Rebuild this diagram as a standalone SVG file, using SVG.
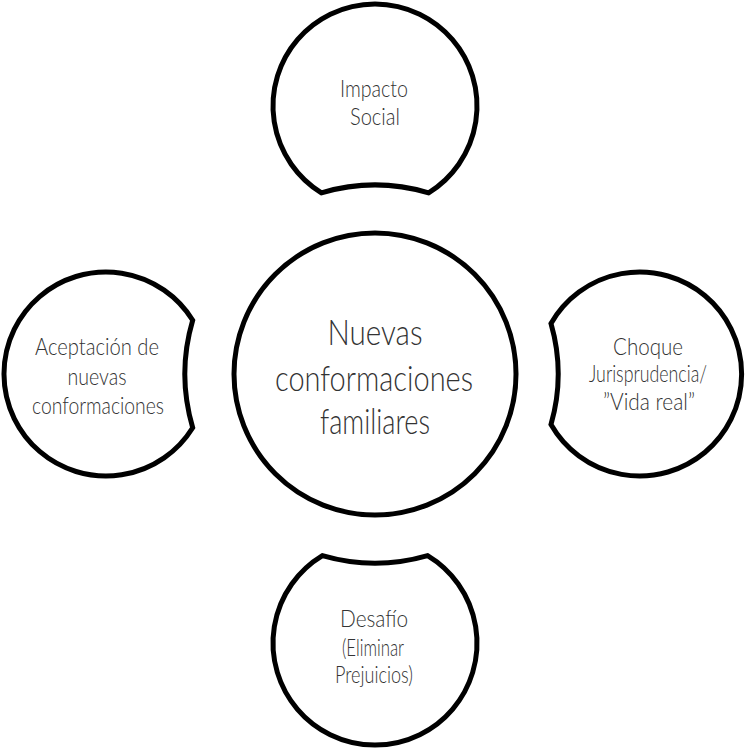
<svg xmlns="http://www.w3.org/2000/svg" width="750" height="750" viewBox="0 0 750 750">
<style>
.shape{fill:#fff;stroke:#000;stroke-width:5;stroke-linejoin:miter}
.t{font-family:Lato,"Noto Sans","Liberation Sans",sans-serif;font-weight:300;fill:#333;text-anchor:middle}
.s{font-size:23px}
.c{font-size:36px}
</style>
<rect width="750" height="750" fill="#fff"/>
<g id="connectors"/>
<g id="center">
<circle class="shape" cx="375" cy="374" r="141"/>
<text class="t c" x="375" y="345" textLength="95" lengthAdjust="spacingAndGlyphs">Nuevas</text>
<text class="t c" x="374" y="391" textLength="198" lengthAdjust="spacingAndGlyphs">conformaciones</text>
<text class="t c" x="375" y="434" textLength="110" lengthAdjust="spacingAndGlyphs">familiares</text>
</g>
<g id="top">
<path class="shape" d="M321.4 192.8 A102 102 0 1 1 428.6 192.8 A189 189 0 0 0 321.4 192.8 Z"/>
<text class="t s" x="374" y="97" textLength="68" lengthAdjust="spacingAndGlyphs">Impacto</text>
<text class="t s" x="375" y="125" textLength="50" lengthAdjust="spacingAndGlyphs">Social</text>
</g>
<g id="left">
<path class="shape" d="M192.7 427.7 A102 102 0 1 1 192.7 320.3 A190 190 0 0 0 192.7 427.7 Z"/>
<text class="t s" x="97" y="355" textLength="124" lengthAdjust="spacingAndGlyphs">Aceptación de</text>
<text class="t s" x="97" y="385" textLength="59" lengthAdjust="spacingAndGlyphs">nuevas</text>
<text class="t s" x="98" y="414" textLength="132" lengthAdjust="spacingAndGlyphs">conformaciones</text>
</g>
<g id="right">
<path class="shape" d="M551 323.5 A102 102 0 1 1 551 424.5 A183 183 0 0 0 551 323.5 Z"/>
<text class="t s" x="648" y="355" textLength="70" lengthAdjust="spacingAndGlyphs">Choque</text>
<text class="t s" x="648" y="382" textLength="118" lengthAdjust="spacingAndGlyphs">Jurisprudencia/</text>
<text class="t s" x="649" y="410" textLength="92" lengthAdjust="spacingAndGlyphs">”Vida real”</text>
</g>
<g id="bottom">
<path class="shape" d="M427.6 555.6 A102 102 0 1 1 322.4 555.6 A189 189 0 0 0 427.6 555.6 Z"/>
<text class="t s" x="374" y="627" textLength="68" lengthAdjust="spacingAndGlyphs">Desafío</text>
<text class="t s" x="373" y="656" textLength="62" lengthAdjust="spacingAndGlyphs">(Eliminar</text>
<text class="t s" x="374" y="683" textLength="78" lengthAdjust="spacingAndGlyphs">Prejuicios)</text>
</g>
</svg>
